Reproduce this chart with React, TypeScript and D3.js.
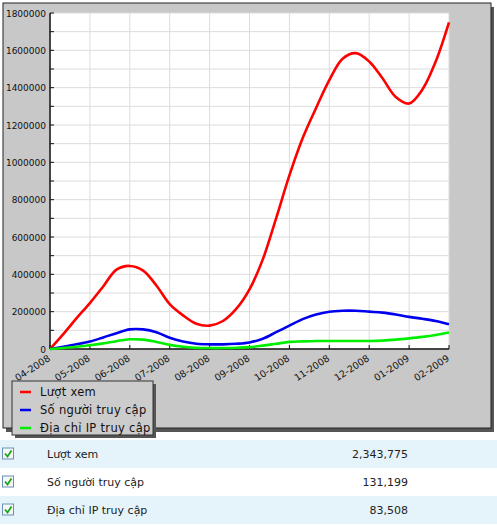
import React from "react";
import * as d3 from "d3";

const months = ["04-2008","05-2008","06-2008","07-2008","08-2008","09-2008","10-2008","11-2008","12-2008","01-2009","02-2009"];
const pointsPerMonth = 3;
const luotXem = [0,80000,165000,246000,335000,425000,445000,420000,340000,240000,180000,135000,125000,150000,215000,320000,480000,700000,930000,1130000,1290000,1440000,1555000,1585000,1540000,1450000,1350000,1315000,1390000,1540000,1750000];
const soNguoi = [0,12000,25000,40000,62000,85000,105000,105000,90000,60000,40000,28000,25000,25000,28000,35000,55000,90000,125000,160000,185000,200000,205000,205000,200000,195000,185000,172000,162000,150000,132000];
const diaChiIP = [0,5000,12000,20000,30000,42000,52000,50000,38000,22000,12000,6000,5000,5000,7000,10000,18000,28000,38000,41000,43000,43000,43000,43000,43000,45000,50000,57000,65000,75000,88000];
const seriesNames = ["Lượt xem","Số người truy cập","Địa chỉ IP truy cập"];
const seriesColors = ["#ff0000","#0000ee","#00ee00"];
const totals = ["2,343,775","131,199","83,508"];
const yTicks = [0,200000,400000,600000,800000,1000000,1200000,1400000,1600000,1800000];

export default function App() {
  const x = d3.scaleLinear().domain([0, months.length - 1]).range([50, 449]);
  const y = d3.scaleLinear().domain([0, 1800000]).range([349, 13]);
  const line = d3.line<number>().x((_, i) => x(i / pointsPerMonth)).y(d => y(d)).curve(d3.curveCatmullRom.alpha(0.5));
  const all = [luotXem, soNguoi, diaChiIP];
  const minorY = d3.range(0, 1800001, 100000);
  const font = "DejaVu Sans, Verdana, sans-serif";
  return (
    <div style={{ position: "fixed", left: 0, top: 0 }}>
      <svg width={497} height={525} style={{ display: "block", background: "#fff" }}>
        <rect x={6} y={7} width={488} height={425} fill="#555" />
        <rect x={3} y={3} width={488} height={425} fill="#c8c8c8" stroke="#222" strokeWidth={1} />
        <rect x={50} y={13} width={399} height={336} fill="#fff" />
        {minorY.map(v => (
          <line key={"gy" + v} x1={50} x2={449} y1={y(v)} y2={y(v)} stroke="#dcdcdc" strokeWidth={1} />
        ))}
        {months.map((m, i) => (
          <line key={"gx" + m} x1={x(i)} x2={x(i)} y1={13} y2={349} stroke="#dcdcdc" strokeWidth={1} />
        ))}
        <line x1={50} x2={50} y1={13} y2={349} stroke="#111" strokeWidth={1.5} />
        <line x1={50} x2={449} y1={349} y2={349} stroke="#111" strokeWidth={1.5} />
        {minorY.map(v => (
          <line key={"ty" + v} x1={50} x2={54} y1={y(v)} y2={y(v)} stroke="#111" strokeWidth={1} />
        ))}
        {months.map((m, i) => (
          <line key={"tx" + m} x1={x(i)} x2={x(i)} y1={345} y2={349} stroke="#111" strokeWidth={1} />
        ))}
        {yTicks.map(v => (
          <text key={"ly" + v} x={46} y={y(v) + 3.5} textAnchor="end" fontFamily={font} fontSize={9} fill="#111">{v}</text>
        ))}
        {months.map((m, i) => (
          <text key={"lx" + m} transform={`translate(${x(i) + 1},${360}) rotate(-33)`} textAnchor="end" fontFamily={font} fontSize={9.5} fill="#111">{m}</text>
        ))}
        {all.map((s, k) => (
          <path key={"s" + k} d={line(s) || ""} fill="none" stroke={seriesColors[k]} strokeWidth={2.6} strokeLinejoin="round" />
        ))}
        <rect x={15} y={384} width={141} height={54} fill="#555" />
        <rect x={12} y={381} width={141} height={54} fill="#cccccc" stroke="#333" strokeWidth={1} />
        {seriesNames.map((n, k) => (
          <g key={"lg" + k}>
            <line x1={20} x2={31} y1={392 + k * 18} y2={392 + k * 18} stroke={seriesColors[k]} strokeWidth={2.5} />
            <text x={40} y={396 + k * 18} fontFamily={font} fontSize={11.5} fill="#111" letterSpacing={0.3}>{n}</text>
          </g>
        ))}
        {seriesNames.map((n, k) => {
          const top = 440 + k * 28;
          const cy = top + 14;
          return (
            <g key={"row" + k}>
              <rect x={0} y={top} width={497} height={28} fill={k % 2 === 0 ? "#e5f4fb" : "#ffffff"} />
              <rect x={2.5} y={cy - 6} width={11} height={11} fill="#f4f8f4" stroke="#6d8fb5" strokeWidth={1} />
              <path d={`M${5} ${cy - 0.5} L${7.5} ${cy + 2.5} L${11.5} ${cy - 3.5}`} fill="none" stroke="#21a121" strokeWidth={1.8} />
              <text x={47} y={cy + 4} fontFamily={font} fontSize={11} fill="#222">{n}</text>
              <text x={408} y={cy + 4} textAnchor="end" fontFamily={font} fontSize={11} fill="#222">{totals[k]}</text>
            </g>
          );
        })}
      </svg>
    </div>
  );
}
